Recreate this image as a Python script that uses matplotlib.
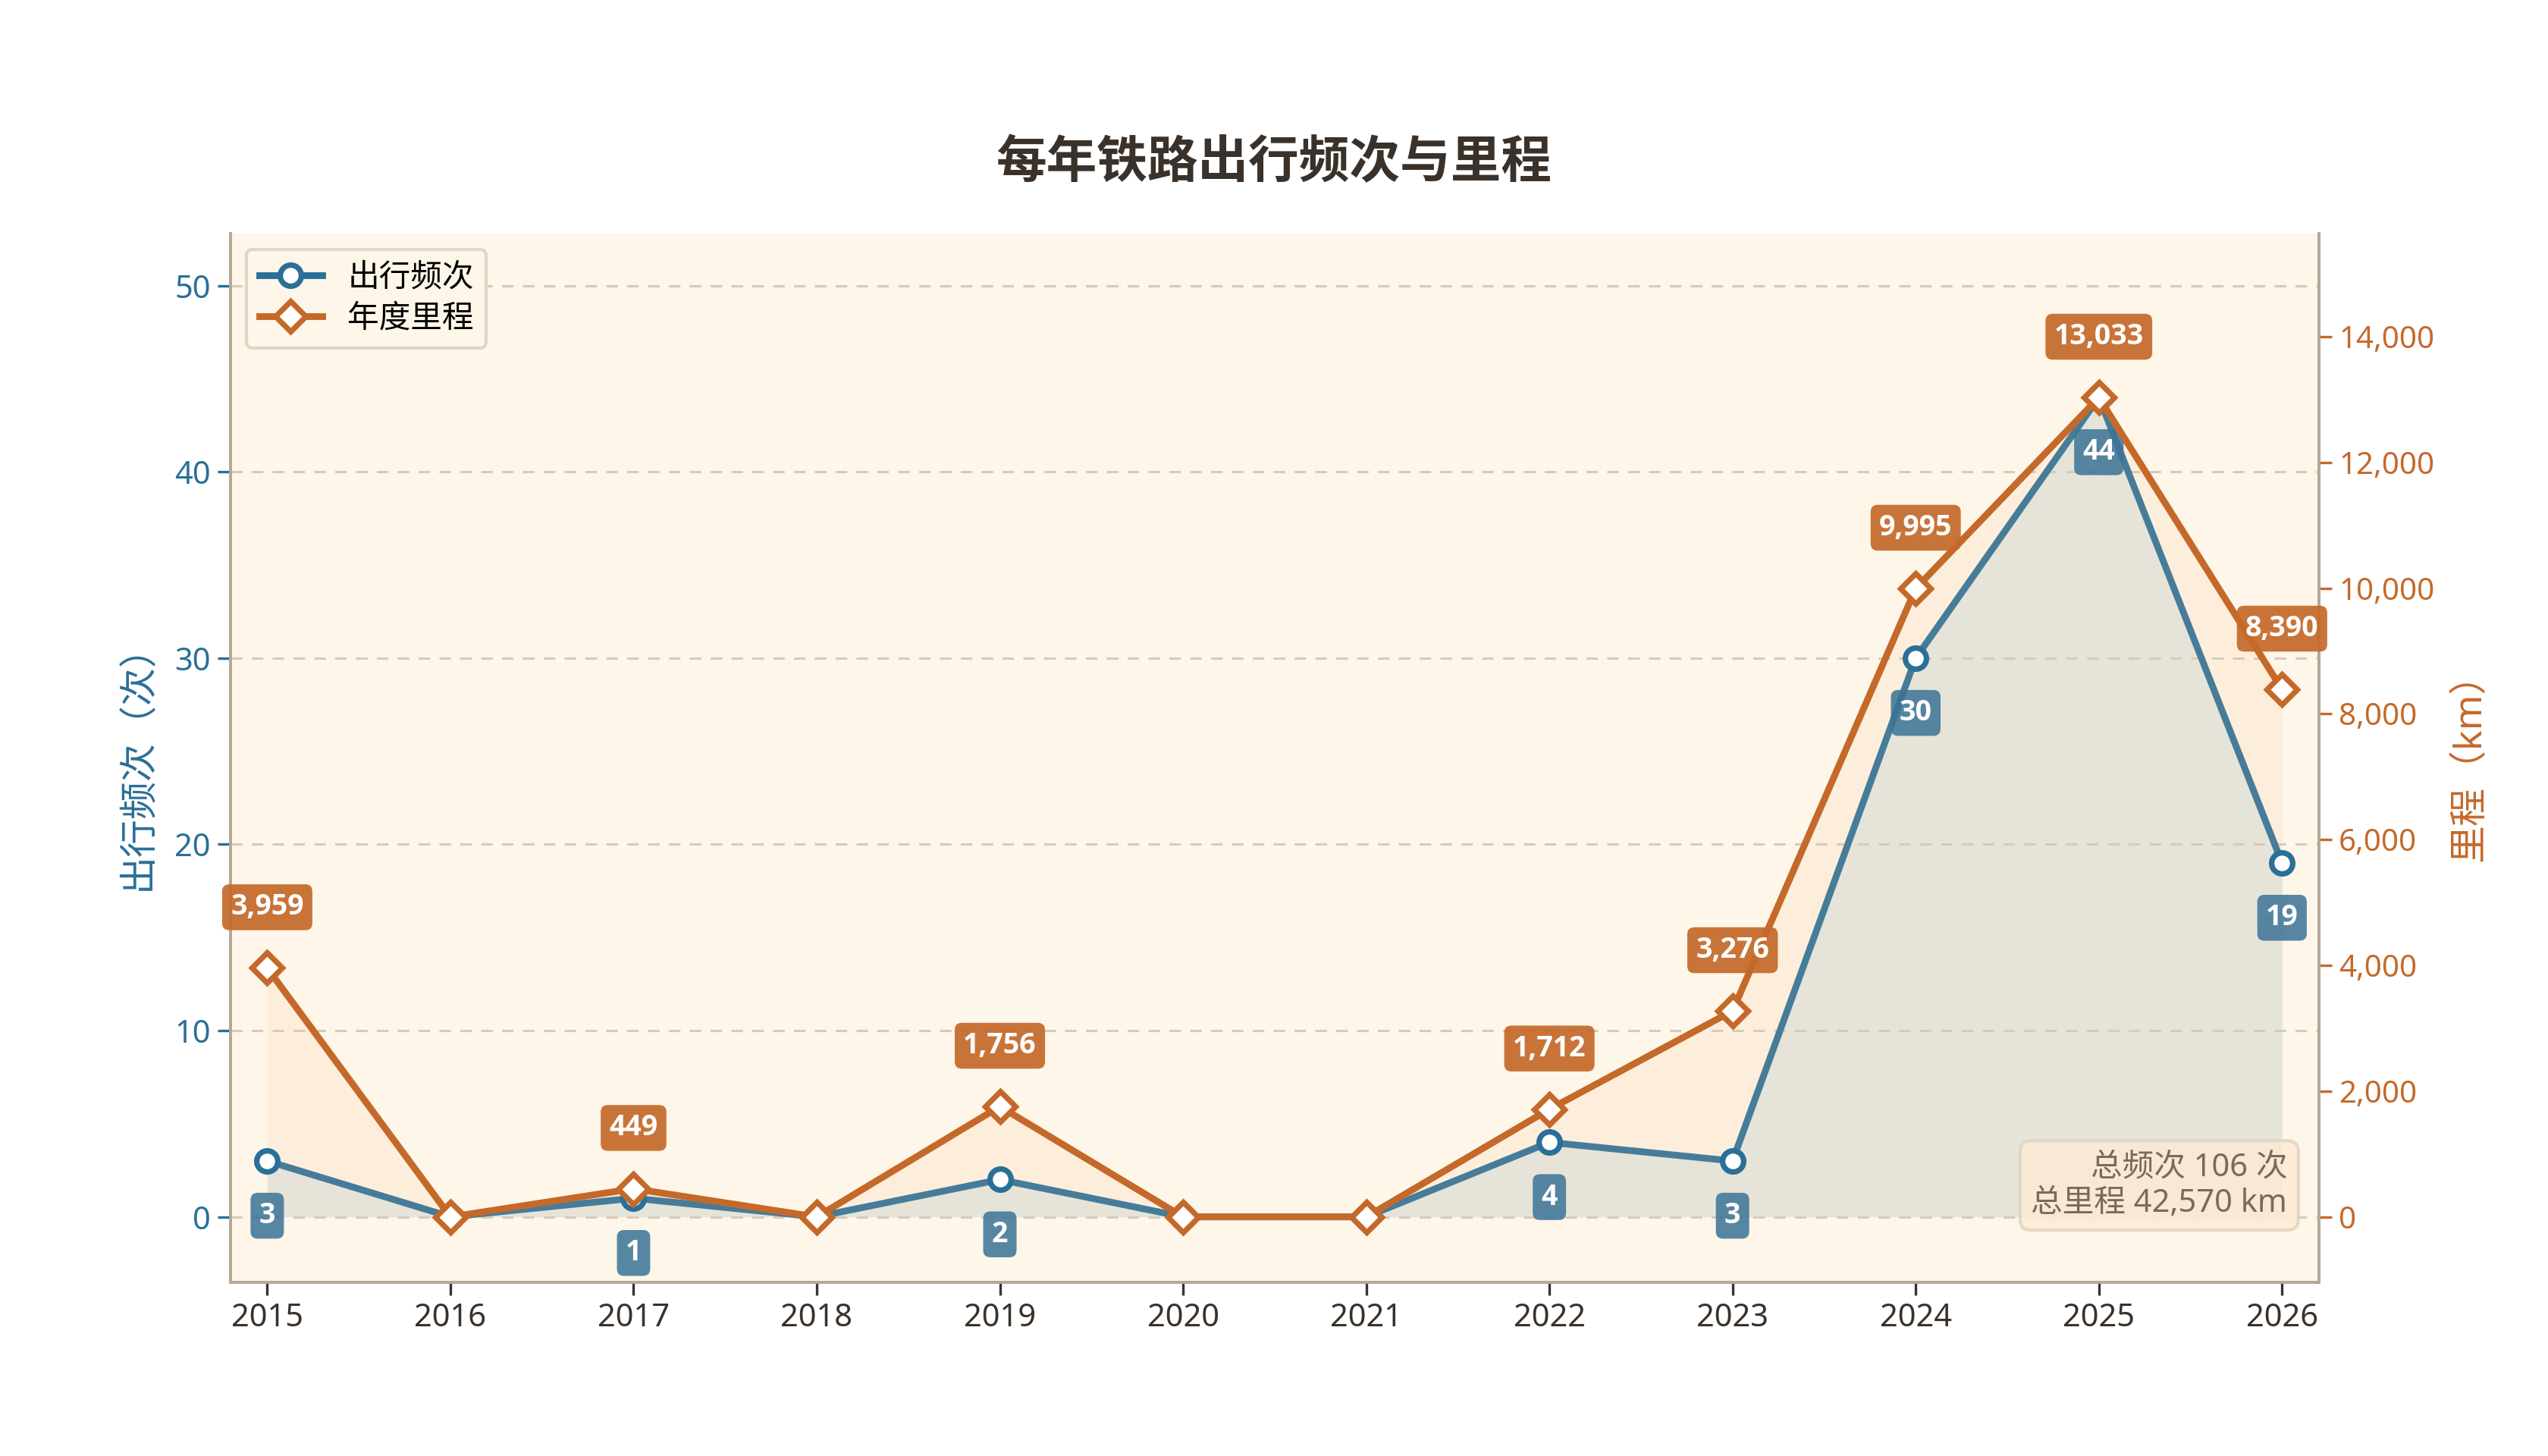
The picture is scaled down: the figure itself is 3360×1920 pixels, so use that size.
import matplotlib
matplotlib.use("Agg")
import matplotlib.pyplot as plt

years = [2015, 2016, 2017, 2018, 2019, 2020, 2021, 2022, 2023, 2024, 2025, 2026]
trips = [3, 0, 1, 0, 2, 0, 0, 4, 3, 30, 44, 19]
km = [3959, 0, 449, 0, 1756, 0, 0, 1712, 3276, 9995, 13033, 8390]

blue = "#2a6f97"
orange = "#c4692a"
cream = "#fef6e8"
tan = "#b5a898"

plt.rcParams['font.family'] = ['Noto Sans', 'Noto Sans CJK SC', 'DejaVu Sans']
label_font = ['Open Sans', 'Noto Sans CJK SC', 'DejaVu Sans']

fig = plt.figure(figsize=(16.8, 9.6), dpi=200)
ax = fig.add_axes([0.0905, 0.1195, 0.8195, 0.7201])
ax.set_facecolor(cream)
ax2 = ax.twinx()

ax.set_xlim(2014.8, 2026.2)
ax.set_ylim(-3.5, 52.8)
ax2.set_ylim(-1035, 15640)

# area fills sit under both lines; the mileage fill uses the right axis scale
ax.fill_between(years, km, 0, transform=ax2.transData, color="#fdeedb", lw=0, zorder=1)
ax.fill_between(years, trips, 0, color="#e6e4d8", lw=0, zorder=1.1)
ax.set_ylim(-3.5, 52.8)

# trips on the left axis
ax.plot(years, trips, color="#467c99", lw=3.2, zorder=4)
ax.plot(years, trips, ls="none", marker="o", ms=10, mfc="white", mec=blue, mew=2.6, zorder=5)
for x, v in zip(years, trips):
    if v > 0:
        ax.annotate(f"{v}", (x, v), xytext=(0, -26), textcoords="offset points",
                    ha="center", va="center", fontsize=13.5, fontweight="bold", color="white",
                    family=label_font,
                    bbox=dict(boxstyle="round,pad=0.3,rounding_size=0.25", fc="#3a7396", ec="none", alpha=0.85),
                    zorder=6)

# mileage on the right axis, drawn on top
ax2.plot(years, km, color=orange, lw=3.2, marker="D", ms=10, mfc="white",
         mec=orange, mew=2.6, zorder=3)
for x, v in zip(years, km):
    if v > 0:
        ax2.annotate(f"{v:,}", (x, v), xytext=(0, 22), textcoords="offset points",
                     ha="center", va="bottom", fontsize=13.5, fontweight="bold", color="white",
                     family=label_font,
                     bbox=dict(boxstyle="round,pad=0.3,rounding_size=0.25", fc=orange, ec="none", alpha=0.92),
                     zorder=5)

ax.set_xticks(years)
ax.set_yticks([0, 10, 20, 30, 40, 50])
ax2.set_yticks([0, 2000, 4000, 6000, 8000, 10000, 12000, 14000])
ax2.set_yticklabels([f"{t:,}" for t in ax2.get_yticks()])
ax.grid(axis="y", ls=(0, (5, 4)), color="#d6cbbb", lw=1.1)
ax.set_axisbelow("line")

ax.tick_params(axis="x", colors="#3a322a", labelsize=15, length=6, width=1.2)
ax.tick_params(axis="y", colors=blue, labelsize=15, length=6, width=1.2)
ax2.tick_params(axis="y", colors=orange, labelsize=14.5, length=6, width=1.2)
ax.set_ylabel("出行频次（次）", color=blue, fontsize=18, labelpad=8)
ax2.set_ylabel("里程（km）", color=orange, fontsize=18, labelpad=8)

for a in (ax, ax2):
    a.spines["top"].set_visible(False)
    for s in ("left", "right", "bottom"):
        a.spines[s].set_color(tan)
        a.spines[s].set_linewidth(1.4)

h1 = plt.Line2D([], [], color=blue, lw=3.2, marker="o", ms=10, mfc="white", mec=blue, mew=2.6)
h2 = plt.Line2D([], [], color=orange, lw=3.2, marker="D", ms=10, mfc="white", mec=orange, mew=2.6)
leg = ax2.legend([h1, h2], ["出行频次", "年度里程"], loc="upper left", fontsize=15,
                 frameon=True, fancybox=True, edgecolor="#e0d6c8", facecolor=cream,
                 framealpha=1.0, handlelength=2.0, borderpad=0.4, labelspacing=0.3)
leg.get_frame().set_linewidth(1.5)

ax2.text(0.985, 0.06, f"总频次 {sum(trips)} 次\n总里程 {sum(km):,} km", transform=ax2.transAxes,
         ha="right", va="bottom", fontsize=15, color="#7a6a5a", linespacing=1.15,
         bbox=dict(boxstyle="round,pad=0.35", fc="#fcebd6", ec="#e3d3c3", alpha=0.85, lw=1.5),
         zorder=7)

fig.suptitle("每年铁路出行频次与里程", x=0.5, y=0.905, fontsize=24, fontweight="black",
             color="#3a322a")

fig.savefig("out.png", dpi=200, facecolor="white")
